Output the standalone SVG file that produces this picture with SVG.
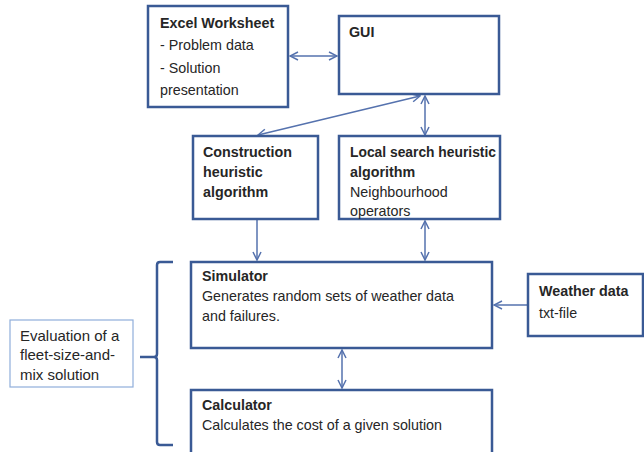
<svg xmlns="http://www.w3.org/2000/svg" width="644" height="452" viewBox="0 0 644 452">
<style>
.box{fill:#fff;stroke:#3A5A95;stroke-width:2.5}
.thin{fill:#fff;stroke:#8FAEDB;stroke-width:1.2}
.t{font-family:"Liberation Sans",Arial,sans-serif;font-size:14.3px;fill:#262626}
.e{font-size:15px}
.b{font-weight:bold}
.c{fill:none;stroke:#5572AE;stroke-width:1.5}
</style>
<defs>
<marker id="ah" markerWidth="10" markerHeight="10" refX="9" refY="5" orient="auto-start-reverse" markerUnits="userSpaceOnUse">
<path d="M1,1 L9,5 L1,9" fill="none" stroke="#5572AE" stroke-width="1.5"/>
</marker>
</defs>
<rect width="644" height="452" fill="#fff"/>
<g id="connectors">
<line class="c" x1="290" y1="56" x2="337" y2="56" marker-start="url(#ah)" marker-end="url(#ah)"/>
<line class="c" x1="420" y1="96" x2="258" y2="135" marker-start="url(#ah)" marker-end="url(#ah)"/>
<line class="c" x1="425" y1="96" x2="425" y2="135" marker-start="url(#ah)" marker-end="url(#ah)"/>
<line class="c" x1="257" y1="220" x2="257" y2="260" marker-end="url(#ah)"/>
<line class="c" x1="425" y1="221" x2="425" y2="260" marker-start="url(#ah)" marker-end="url(#ah)"/>
<line class="c" x1="527" y1="305" x2="494" y2="305" marker-end="url(#ah)"/>
<line class="c" x1="342" y1="350" x2="342" y2="388" marker-start="url(#ah)" marker-end="url(#ah)"/>
<path d="M173,262 L160,262 Q157,262 157,265 L157,354 Q157,357 154,357 L140,357 M154,357 Q157,357 157,360 L157,442 Q157,445 160,445 L173,445" fill="none" stroke="#3A5A95" stroke-width="2.5"/>
</g>
<g id="excel">
<rect class="box" x="148" y="6" width="140" height="101"/>
<text class="t b" x="160" y="28">Excel Worksheet</text>
<text class="t" x="160" y="50">- Problem data</text>
<text class="t" x="160" y="73">- Solution</text>
<text class="t" x="160" y="95">presentation</text>
</g>
<g id="gui">
<rect class="box" x="339" y="16" width="160" height="78"/>
<text class="t b" x="349" y="37">GUI</text>
</g>
<g id="construction">
<rect class="box" x="193" y="136" width="125" height="83"/>
<text class="t b" x="203" y="157">Construction</text>
<text class="t b" x="203" y="177">heuristic</text>
<text class="t b" x="203" y="197">algorithm</text>
</g>
<g id="localsearch">
<rect class="box" x="339" y="136" width="161" height="83"/>
<text class="t b" x="350" y="157" textLength="146" lengthAdjust="spacingAndGlyphs">Local search heuristic</text>
<text class="t b" x="350" y="177">algorithm</text>
<text class="t" x="350" y="197">Neighbourhood</text>
<text class="t" x="350" y="216">operators</text>
</g>
<g id="simulator">
<rect class="box" x="191" y="262" width="301" height="86"/>
<text class="t b" x="202" y="281">Simulator</text>
<text class="t" x="202" y="301">Generates random sets of weather data</text>
<text class="t" x="202" y="321">and failures.</text>
</g>
<g id="weather">
<rect class="box" x="528" y="274" width="115" height="62"/>
<text class="t b" x="539" y="296">Weather data</text>
<text class="t" x="539" y="318">txt-file</text>
</g>
<g id="calculator">
<rect class="box" x="191" y="390" width="301" height="70"/>
<text class="t b" x="202" y="410">Calculator</text>
<text class="t" x="202" y="430">Calculates the cost of a given solution</text>
</g>
<g id="evaluation">
<rect class="thin" x="10" y="320" width="123" height="67"/>
<text class="t e" x="20" y="341">Evaluation of a</text>
<text class="t e" x="20" y="360">fleet-size-and-</text>
<text class="t e" x="20" y="380">mix solution</text>
</g>
</svg>
